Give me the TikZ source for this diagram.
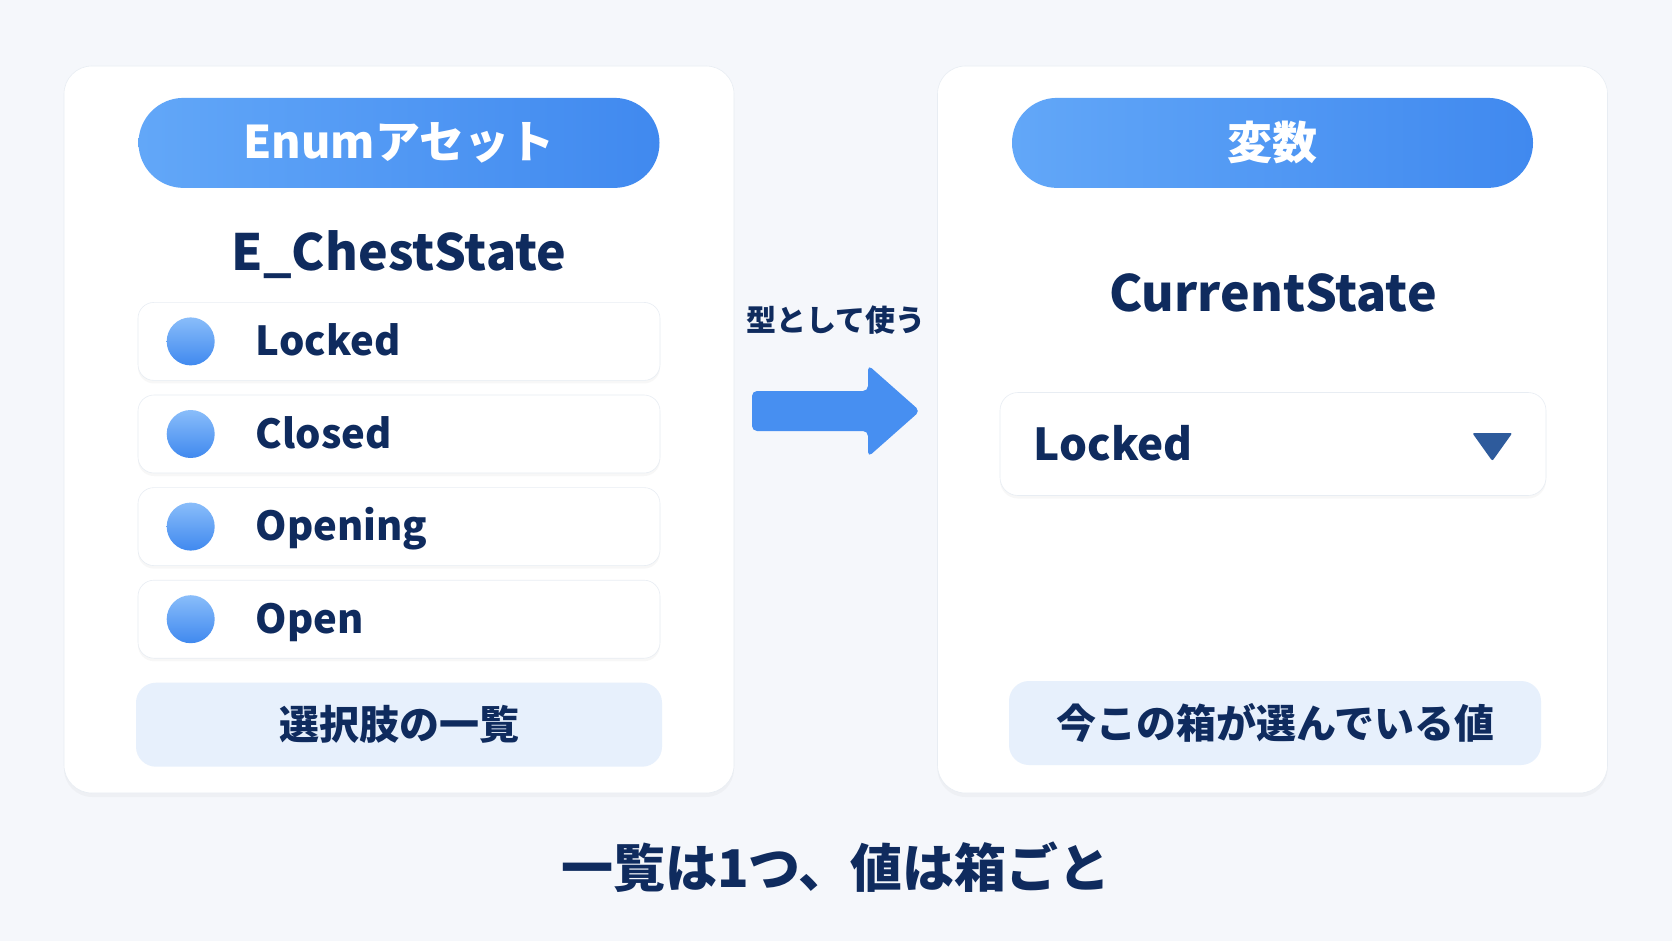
\documentclass[tikz,border=0pt]{standalone}
\usepackage{fontspec}
\setmainfont{Noto Sans CJK JP}
\usepackage{xcolor}
\usepackage{tikz}
\usetikzlibrary{
    positioning,
    calc,
    shadows
}
\definecolor{encbg}{HTML}{F5F7FB}
\definecolor{encnavy}{HTML}{0F2B5E}
\definecolor{encbluelight}{HTML}{62A7F8}
\definecolor{encbluedark}{HTML}{4089EF}
\definecolor{encpale}{HTML}{E7F0FC}
\definecolor{encline}{HTML}{E8EDF3}
\definecolor{enccaret}{HTML}{2E5B9C}
\tikzset{
    % White card
    encard/.style={
        rectangle,
        rounded corners=28pt,
        fill=white,
        draw=encline,
        line width=0.6pt,
        minimum width=670pt,
        minimum height=727pt,
        drop shadow={shadow xshift=0pt, shadow yshift=-4pt, opacity=0.045, fill=black!60}
    },
    % Blue header pill
    pillhead/.style={
        rectangle,
        rounded corners=45pt,
        left color=encbluelight,
        right color=encbluedark,
        text=white,
        font=\fontsize{45pt}{47pt}\selectfont\bfseries,
        minimum width=521pt,
        minimum height=90pt,
        inner sep=0pt
    },
    % Big type name
    typename/.style={
        text=encnavy,
        font=\fontsize{50pt}{52pt}\selectfont\bfseries,
        anchor=base,
        inner sep=0pt
    },
    % Enum row
    itemrow/.style={
        rectangle,
        rounded corners=16pt,
        fill=white,
        draw=encline,
        line width=0.6pt,
        minimum width=522pt,
        minimum height=78pt,
        drop shadow={shadow xshift=0pt, shadow yshift=-3pt, opacity=0.05, fill=black!60}
    },
    % Row bullet
    itemdot/.style={
        circle,
        inner sep=0pt,
        minimum size=48pt,
        top color=encbluelight!75!white,
        bottom color=encbluedark
    },
    % Row text
    itemtext/.style={
        text=encnavy,
        font=\fontsize{40pt}{42pt}\selectfont\bfseries,
        anchor=base west,
        inner sep=0pt
    },
    % Pale caption box
    notebox/.style={
        rectangle,
        rounded corners=20pt,
        fill=encpale,
        text=encnavy,
        font=\fontsize{40pt}{42pt}\selectfont\bfseries,
        minimum height=84pt,
        inner sep=0pt
    },
    % Plain label
    plainlabel/.style={
        text=encnavy,
        font=\fontsize{#1}{#1}\selectfont\bfseries,
        inner sep=0pt
    },
    plainlabel/.default=30pt
}

\begin{document}
\begin{tikzpicture}[x=1pt, y=-1pt]
    \fill[encbg] (0,0) rectangle (1672,941);
    \useasboundingbox (0,0) rectangle (1672,941);

    % Left card: the enum asset
    \node[encard] (l-card) at (399,429.5) {};
    \node[pillhead, below=32pt of l-card.north] (l-head) {Enumアセット};
    \node[typename] (l-name) at (399,270) {E\_ChestState};

    \node[itemrow, below=114pt of l-head] (l-item1) {};
    \node[itemrow, below=14pt of l-item1] (l-item2) {};
    \node[itemrow, below=14pt of l-item2] (l-item3) {};
    \node[itemrow, below=14pt of l-item3] (l-item4) {};
    \foreach \i/\txt in {1/Locked, 2/Closed, 3/Opening, 4/Open} {
        \node[itemdot] (l-dot\i) at ($(l-item\i.west)+(53,0)$) {};
        \node[itemtext] (l-txt\i) at ($(l-item\i.west)+(118,14)$) {\txt};
    }
    \node[notebox, minimum width=526pt, below=24pt of l-item4] (l-note) {選択肢の一覧};

    % Arrow between cards
    \node[plainlabel=30pt] (use-label) at (836,320) {型として使う};
    \coordinate (arr-tail) at (752,412);
    \fill[encbluedark!80!encbluelight, rounded corners=5pt]
        (arr-tail) ++(0,-21) -- ++(116,0) -- ++(0,-26) -- ++(52,46) -- ++(-52,46)
        -- ++(0,-26) -- ++(-116,0) -- cycle;

    % Right card: the variable
    \node[encard] (r-card) at (1272.5,429.5) {};
    \node[pillhead, below=32pt of r-card.north] (r-head) {変数};
    \node[typename] (r-name) at (1273,311) {CurrentState};

    \node[itemrow, minimum width=546pt, minimum height=103pt, rounded corners=18pt] (d-box) at (1273,444) {};
    \node[itemtext, font=\fontsize{44pt}{46pt}\selectfont\bfseries] (d-txt) at ($(d-box.west)+(34,16)$) {Locked};
    \coordinate (d-caret) at ($(d-box.east)+(-54,3)$);
    \fill[enccaret, rounded corners=2pt]
        ($(d-caret)+(-20,-14)$) -- ($(d-caret)+(20,-14)$) -- ($(d-caret)+(0,14)$) -- cycle;

    \node[notebox, minimum width=532pt] (r-note) at (1275,723) {今この箱が選んでいる値};

    % Bottom summary
    \node[plainlabel=52pt] (summary) at (836,867) {一覧は1つ、値は箱ごと};
\end{tikzpicture}
\end{document}
